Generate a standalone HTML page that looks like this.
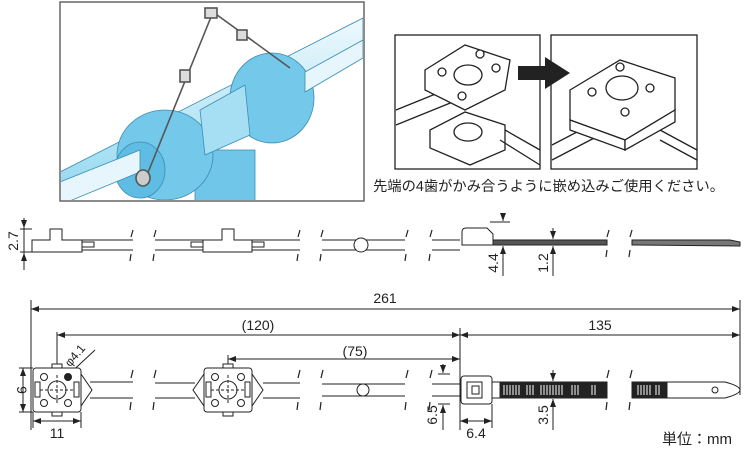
<!DOCTYPE html>
<html><head><meta charset="utf-8"><style>
html,body{margin:0;padding:0;background:#fff}
svg{display:block}
text{font-family:"Liberation Sans","Noto Sans CJK JP",sans-serif;fill:#222}
</style></head><body>
<svg width="750" height="450" viewBox="0 0 750 450" xmlns="http://www.w3.org/2000/svg">
<defs>
<linearGradient id="pg" x1="0" y1="0" x2="0" y2="1"><stop offset="0" stop-color="#eef9fd"/><stop offset="1" stop-color="#8fd6f0"/></linearGradient>
<marker id="a" markerWidth="8" markerHeight="6" refX="8" refY="3" orient="auto"><path d="M0,0L8,3L0,6z" fill="#222"/></marker>
<marker id="b" markerWidth="8" markerHeight="6" refX="0" refY="3" orient="auto"><path d="M8,0L0,3L8,6z" fill="#222"/></marker>
<clipPath id="pc"><rect x="61" y="3" width="302" height="197"/></clipPath>
</defs>

<!-- photo -->
<rect x="60" y="2" width="304" height="199" fill="#fff" stroke="#666" stroke-width="1.5"/>
<g clip-path="url(#pc)" stroke="#3a8db5" stroke-width="0.8">
<polygon points="60,172 60,205 363,50 363,18" fill="url(#pg)"/>
<polygon points="195,150 255,150 255,205 195,205" fill="#6fc6e8"/>
<ellipse cx="165" cy="155" rx="48" ry="45" fill="#74c8ea"/>
<ellipse cx="140" cy="170" rx="25" ry="28" fill="#5fbde4"/>
<ellipse cx="272" cy="98" rx="42" ry="45" fill="#74c8ea"/>
<polygon points="200,110 245,85 250,135 205,155" fill="#a6def4"/>
<polygon points="60,182 140,150 140,172 60,205" fill="#e6f6fc"/>
<polygon points="305,72 363,40 363,58 305,92" fill="#e6f6fc"/>
</g>
<g stroke="#555" stroke-width="1.6" fill="none">
<line x1="145" y1="180" x2="213" y2="12"/>
<line x1="213" y1="12" x2="290" y2="68"/>
<rect x="205" y="8" width="12" height="10" fill="#ddd"/>
<rect x="237" y="30" width="10" height="10" fill="#ddd"/>
<rect x="180" y="70" width="10" height="12" fill="#ddd"/>
<ellipse cx="143" cy="178" rx="7" ry="8" fill="#ccc"/>
</g>

<!-- right boxes -->
<g stroke="#222" stroke-width="1.3" fill="#fff">
<rect x="395" y="35" width="145" height="134"/>
<rect x="551" y="35" width="146" height="134"/>
<line x1="396" y1="110" x2="470" y2="80" />
<line x1="396" y1="125" x2="470" y2="95" />
<path d="M425,70 L465,45 L510,60 L505,90 L465,110 L425,90 Z"/>
<ellipse cx="468" cy="75" rx="14" ry="10"/>
<circle cx="442" cy="72" r="4"/><circle cx="480" cy="54" r="4"/><circle cx="496" cy="68" r="4"/><circle cx="462" cy="96" r="4"/>
<path d="M430,130 L465,112 L505,125 L505,150 L470,165 L430,148 Z"/>
<ellipse cx="468" cy="132" rx="14" ry="9"/>
<line x1="500" y1="140" x2="540" y2="165"/>
<line x1="505" y1="130" x2="540" y2="150"/>
<line x1="552" y1="145" x2="600" y2="120"/>
<line x1="552" y1="160" x2="600" y2="135"/>
<line x1="660" y1="130" x2="697" y2="150"/>
<line x1="660" y1="140" x2="697" y2="160"/>
<path d="M570,90 L620,60 L675,78 L675,110 L625,140 L570,120 Z"/>
<ellipse cx="622" cy="88" rx="16" ry="12"/>
<circle cx="592" cy="92" r="4"/><circle cx="620" cy="67" r="4"/><circle cx="650" cy="88" r="4"/><circle cx="625" cy="112" r="4"/>
<path d="M570,120 L625,140 L625,150 L570,130 Z"/>
<path d="M625,140 L675,110 L675,122 L625,150 Z"/>
</g>
<polygon points="518,66 545,66 545,57 570,73 545,89 545,80 518,80" fill="#222"/>
<text x="373" y="191" font-size="14.3">先端の4歯がかみ合うように嵌め込みご使用ください。</text>

<!-- side view row -->
<g stroke="#222" stroke-width="1" fill="#fff">
<line x1="82" y1="240" x2="133" y2="240"/><line x1="82" y1="250" x2="133" y2="250"/>
<line x1="155" y1="240" x2="300" y2="240"/><line x1="155" y1="250" x2="300" y2="250"/>
<line x1="322" y1="240" x2="405" y2="240"/><line x1="322" y1="250" x2="405" y2="250"/>
<line x1="432" y1="240" x2="460" y2="240"/><line x1="432" y1="250" x2="460" y2="250"/>
<path d="M32,240 L50,240 L50,229 L62,229 L62,240 L82,240 L82,252 L32,252 Z"/>
<rect x="82" y="242" width="12" height="5"/>
<rect x="191" y="242" width="12" height="5"/>
<path d="M203,240 L222,240 L222,229 L234,229 L234,240 L252,240 L252,252 L203,252 Z"/>
<rect x="252" y="242" width="12" height="5"/>
<circle cx="361" cy="245" r="7"/>
<path d="M462,245 L462,232 Q462,228 466,228 L487,228 L493,234 L493,245 Z"/>
<rect x="493" y="240" width="114" height="5" fill="#555"/>
<path d="M632,240 L730,240 L740,242 L740,246 L632,245 Z" fill="#777"/>
</g>
<g stroke="#222" stroke-width="1.2">
<line x1="133" y1="230" x2="131" y2="237"/><line x1="131" y1="254" x2="130" y2="261"/>
<line x1="156" y1="230" x2="154" y2="237"/><line x1="154" y1="254" x2="153" y2="261"/>
<line x1="300" y1="230" x2="298" y2="237"/><line x1="298" y1="254" x2="297" y2="261"/>
<line x1="323" y1="230" x2="321" y2="237"/><line x1="321" y1="254" x2="320" y2="261"/>
<line x1="408" y1="230" x2="406" y2="237"/><line x1="406" y1="254" x2="405" y2="261"/>
<line x1="432" y1="230" x2="430" y2="237"/><line x1="430" y1="254" x2="429" y2="261"/>
<line x1="609" y1="230" x2="607" y2="237"/><line x1="607" y1="250" x2="606" y2="257"/>
<line x1="632" y1="230" x2="630" y2="237"/><line x1="630" y1="250" x2="629" y2="257"/>
</g>
<g stroke="#222" stroke-width="1">
<line x1="24" y1="218" x2="24" y2="270"/>
<line x1="20" y1="229" x2="32" y2="229"/><line x1="20" y1="252" x2="32" y2="252"/>
<line x1="24" y1="218" x2="24" y2="228" marker-end="url(#a)"/>
<line x1="24" y1="270" x2="24" y2="253" marker-end="url(#a)"/>
<line x1="490" y1="222" x2="510" y2="222"/>
<line x1="503" y1="214" x2="503" y2="221" marker-end="url(#a)"/>
<line x1="503" y1="276" x2="503" y2="246" marker-end="url(#a)"/>
<line x1="553" y1="228" x2="553" y2="239" marker-end="url(#a)"/>
<line x1="553" y1="276" x2="553" y2="246" marker-end="url(#a)"/>
</g>
<text font-size="14" transform="translate(18,241) rotate(-90)" text-anchor="middle">2.7</text>
<text font-size="14" transform="translate(498,263) rotate(-90)" text-anchor="middle">4.4</text>
<text font-size="14" transform="translate(548,263) rotate(-90)" text-anchor="middle">1.2</text>

<!-- bottom dims -->
<g stroke="#222" stroke-width="1" fill="none">
<line x1="31" y1="300" x2="31" y2="430"/>
<line x1="740" y1="300" x2="740" y2="395"/>
<line x1="460" y1="328" x2="460" y2="430"/>
<line x1="57" y1="332" x2="57" y2="375"/>
<line x1="228" y1="355" x2="228" y2="370"/>
<line x1="31" y1="309" x2="740" y2="309" marker-start="url(#b)" marker-end="url(#a)"/>
<line x1="57" y1="335" x2="460" y2="335" marker-start="url(#b)" marker-end="url(#a)"/>
<line x1="460" y1="335" x2="740" y2="335" marker-start="url(#b)" marker-end="url(#a)"/>
<line x1="228" y1="359" x2="460" y2="359" marker-start="url(#b)" marker-end="url(#a)"/>
<line x1="65" y1="378" x2="95" y2="350"/>
<line x1="23" y1="368" x2="23" y2="412" marker-start="url(#b)" marker-end="url(#a)"/>
<line x1="19" y1="368" x2="33" y2="368"/><line x1="19" y1="412" x2="33" y2="412"/>
<line x1="33" y1="412" x2="33" y2="428"/><line x1="81" y1="412" x2="81" y2="428"/>
<line x1="33" y1="421" x2="81" y2="421" marker-start="url(#b)" marker-end="url(#a)"/>
<line x1="492" y1="404" x2="492" y2="428"/>
<line x1="460" y1="421" x2="492" y2="421" marker-start="url(#b)" marker-end="url(#a)"/>
<line x1="438" y1="374" x2="450" y2="374"/><line x1="438" y1="404" x2="450" y2="404"/>
<line x1="443" y1="364" x2="443" y2="373" marker-end="url(#a)"/>
<line x1="443" y1="430" x2="443" y2="405" marker-end="url(#a)"/>
<line x1="553" y1="370" x2="553" y2="381" marker-end="url(#a)"/>
<line x1="553" y1="430" x2="553" y2="399" marker-end="url(#a)"/>
</g>
<text x="385" y="303" font-size="14" text-anchor="middle">261</text>
<text x="258" y="330" font-size="14" text-anchor="middle">(120)</text>
<text x="355" y="356" font-size="14" text-anchor="middle">(75)</text>
<text x="600" y="330" font-size="14" text-anchor="middle">135</text>
<text x="57" y="438" font-size="14" text-anchor="middle">11</text>
<text x="476" y="438" font-size="14" text-anchor="middle">6.4</text>
<text font-size="14" transform="translate(17,390) rotate(90)" text-anchor="middle">9</text>
<text font-size="12" transform="translate(78,358) rotate(-50)" text-anchor="middle">φ4.1</text>
<text font-size="14" transform="translate(437,415) rotate(-90)" text-anchor="middle">6.5</text>
<text font-size="14" transform="translate(548,415) rotate(-90)" text-anchor="middle">3.5</text>
<text x="662" y="444" font-size="15">単位：mm</text>

<!-- bottom parts -->
<g stroke="#222" stroke-width="1" fill="#fff">
<line x1="90" y1="382" x2="133" y2="382"/><line x1="90" y1="398" x2="133" y2="398"/>
<line x1="155" y1="383" x2="195" y2="383"/><line x1="155" y1="398" x2="195" y2="398"/>
<line x1="263" y1="383" x2="300" y2="383"/><line x1="263" y1="398" x2="300" y2="398"/>
<line x1="322" y1="384" x2="405" y2="384"/><line x1="322" y1="396" x2="405" y2="396"/>
<line x1="432" y1="384" x2="461" y2="384"/><line x1="432" y1="396" x2="461" y2="396"/>
<polygon points="81,374 92,390 81,406"/>
<rect x="33" y="368" width="48" height="44" rx="3"/>
<rect x="52" y="364" width="10" height="4"/><rect x="52" y="412" width="10" height="4"/>
<circle cx="57" cy="390" r="9"/>
<line x1="40" y1="390" x2="74" y2="390" stroke-dasharray="3,2"/>
<line x1="57" y1="375" x2="57" y2="405" stroke-dasharray="3,2"/>
<circle cx="44" cy="377" r="3.5"/><circle cx="44" cy="403" r="3.5"/><circle cx="68" cy="403" r="3.5"/>
<circle cx="68" cy="377" r="3.5" fill="#222"/>
<rect x="35" y="382" width="5" height="15"/><rect x="74" y="382" width="5" height="15"/>
<polygon points="204,374 193,390 204,406"/>
<polygon points="252,374 263,390 252,406"/>
<rect x="204" y="368" width="48" height="44" rx="3"/>
<rect x="223" y="364" width="10" height="4"/><rect x="223" y="412" width="10" height="4"/>
<circle cx="228" cy="390" r="9"/>
<line x1="211" y1="390" x2="245" y2="390" stroke-dasharray="3,2"/>
<line x1="228" y1="375" x2="228" y2="405" stroke-dasharray="3,2"/>
<circle cx="215" cy="377" r="3.5"/><circle cx="215" cy="403" r="3.5"/><circle cx="241" cy="377" r="3.5"/><circle cx="241" cy="403" r="3.5"/>
<rect x="206" y="382" width="5" height="15"/><rect x="245" y="382" width="5" height="15"/>
<circle cx="363" cy="390" r="6"/>
<rect x="461" y="376" width="31" height="28" rx="3"/>
<rect x="467" y="382" width="15" height="16"/>
<rect x="472" y="386" width="7" height="8"/>
<rect x="492" y="382" width="8" height="16"/>
<rect x="500" y="382" width="107" height="16" fill="#222"/>
<rect x="632" y="382" width="35" height="16" fill="#222"/>
<path d="M667,382 L725,382 Q740,386 740,390 Q740,394 725,398 L667,398 Z"/>
<circle cx="715" cy="390" r="3"/>
</g>
<g stroke="#fff" stroke-width="1">
<path d="M504,385v10M507,385v10M510,385v10M513,385v10M516,385v10M519,385v10M527,385v10M530,385v10M533,385v10M541,385v10M544,385v10M547,385v10M550,385v10M553,385v10M556,385v10M559,385v10M562,385v10M572,385v10M575,385v10M578,385v10M592,385v10M595,385v10M638,385v10M641,385v10M644,385v10M647,385v10M650,385v10M656,385v10M659,385v10"/>
</g>
<g stroke="#222" stroke-width="1.2">
<line x1="133" y1="370" x2="131" y2="378"/><line x1="131" y1="402" x2="130" y2="410"/>
<line x1="156" y1="370" x2="154" y2="378"/><line x1="154" y1="402" x2="153" y2="410"/>
<line x1="300" y1="370" x2="298" y2="378"/><line x1="298" y1="402" x2="297" y2="410"/>
<line x1="323" y1="370" x2="321" y2="378"/><line x1="321" y1="402" x2="320" y2="410"/>
<line x1="408" y1="370" x2="406" y2="378"/><line x1="406" y1="402" x2="405" y2="410"/>
<line x1="432" y1="370" x2="430" y2="378"/><line x1="430" y1="402" x2="429" y2="410"/>
<line x1="609" y1="370" x2="607" y2="378"/><line x1="607" y1="402" x2="606" y2="410"/>
<line x1="632" y1="370" x2="630" y2="378"/><line x1="630" y1="402" x2="629" y2="410"/>
</g>
</svg>
</body></html>
